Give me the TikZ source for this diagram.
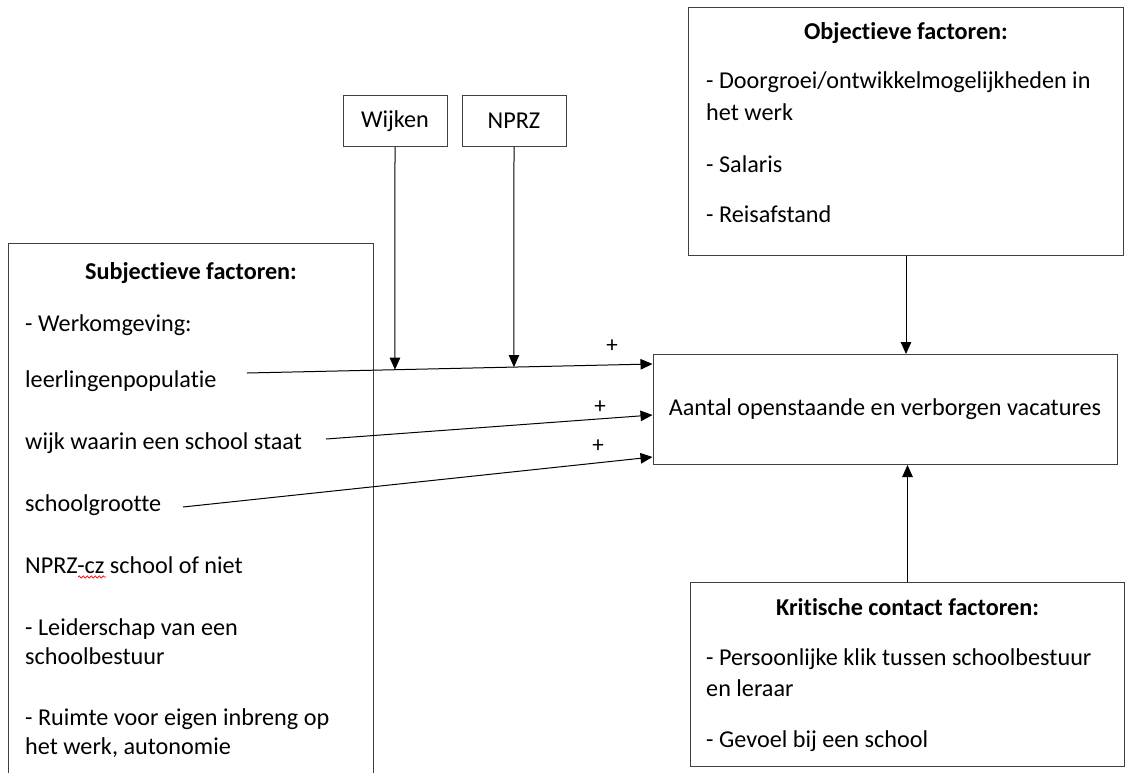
\documentclass[tikz,border=0pt]{standalone}
\usepackage{fontspec}
\setmainfont{Carlito}[Ligatures={NoCommon}]
\usetikzlibrary{positioning, calc, arrows.meta, decorations.pathmorphing}

\begin{document}
\begin{tikzpicture}[x=1pt, y=-1pt, font=\fontsize{24.2}{29.5}\selectfont,
		kader/.style={rectangle, draw=black!75, line width=1pt, inner sep=0pt},
		regel/.style={anchor=base west, inner sep=0pt},
		kop/.style={anchor=base, inner sep=0pt, font=\fontsize{24.2}{29.5}\selectfont\bfseries},
		pijl/.style={-{Triangle[length=12pt, width=10.5pt]}, line width=1pt},
		plus/.style={inner sep=0pt, font=\fontsize{23}{26}\selectfont}]
		\useasboundingbox (0,0) rectangle (1129,772);
		\clip (0,0) rectangle (1129,772);
		% objectieve factoren
		\node[kader, anchor=north west, minimum width=435pt, minimum height=248pt] (obj) at (688,7) {};
		\node[kop] (obj-kop) at (obj.north |- 0,39) {Objectieve factoren:};
		\node[regel] (obj-1) at (706,88) {- Doorgroei/ontwikkelmogelijkheden in};
		\node[regel] (obj-1b) at (706,120) {het werk};
		\node[regel] (obj-2) at (706,172) {- Salaris};
		\node[regel] (obj-3) at (706,222) {- Reisafstand};
		% wijken en nprz
		\node[kader, minimum width=104pt, minimum height=51pt] (wijken) at (395,121) {Wijken};
		\node[kader, minimum width=104pt, minimum height=51pt, right=14pt of wijken] (nprz) {NPRZ};
		% subjectieve factoren
		\node[kader, anchor=north west, minimum width=365pt, minimum height=560pt] (subj) at (8,243) {};
		\node[kop] (subj-kop) at (subj.north |- 0,279) {Subjectieve factoren:};
		\node[regel] (werk) at (25,331) {- Werkomgeving:};
		\node[regel] (leer) at (25,387) {leerlingenpopulatie};
		\node[regel] (wijk) at (25,449) {wijk waarin een school staat};
		\node[regel] (grootte) at (25,511) {schoolgrootte};
		\node[regel] (nprzcz) at (25,573) {NPRZ-cz school of niet};
		\node[regel] (leider) at (25,635) {- Leiderschap van een};
		\node[regel] (leider-b) at (25,664) {schoolbestuur};
		\node[regel] (ruimte) at (25,725) {- Ruimte voor eigen inbreng op};
		\node[regel] (ruimte-b) at (25,754) {het werk, autonomie};
		\draw[red, line width=0.7pt, decorate, decoration={snake, amplitude=1.1pt, segment length=4pt}] (78,577) -- (106,577);
		% vacatures
		\node[kader, minimum width=464pt, minimum height=110pt] (vac) at (885,409.5) {Aantal openstaande en verborgen vacatures};
		% kritische contact factoren
		\node[kader, anchor=north west, minimum width=434pt, minimum height=184pt] (krit) at (690,582) {};
		\node[kop] (krit-kop) at (krit.north |- 0,615) {Kritische contact factoren:};
		\node[regel] (krit-1) at (706,665) {- Persoonlijke klik tussen schoolbestuur};
		\node[regel] (krit-1b) at (706,696) {en leraar};
		\node[regel] (krit-2) at (706,747) {- Gevoel bij een school};
		% pijlen
		\coordinate (leer-uit) at (247,373);
		\coordinate (wijk-uit) at (326,439);
		\coordinate (grootte-uit) at (183,507);
		\coordinate (leer-in) at ([yshift=45.5pt]vac.west);
		\draw[pijl] (leer-uit) -- (leer-in);
		\draw[pijl] (wijk-uit) -- ([yshift=-5.5pt]vac.west);
		\draw[pijl] (grootte-uit) -- ([yshift=-47.5pt]vac.west);
		\draw[pijl] (wijken) -- (intersection of wijken.south--wijken.north and leer-uit--leer-in);
		\draw[pijl] (nprz) -- (intersection of nprz.south--nprz.north and leer-uit--leer-in);
		\draw[pijl] (obj.south) -- (obj.south |- vac.north);
		\draw[pijl] (krit.north) -- (krit.north |- vac.south);
		\node[plus] (plus-leer) at (612,346) {+};
		\node[plus] (plus-wijk) at (600,407) {+};
		\node[plus] (plus-grootte) at (598,446) {+};
\end{tikzpicture}
\end{document}
